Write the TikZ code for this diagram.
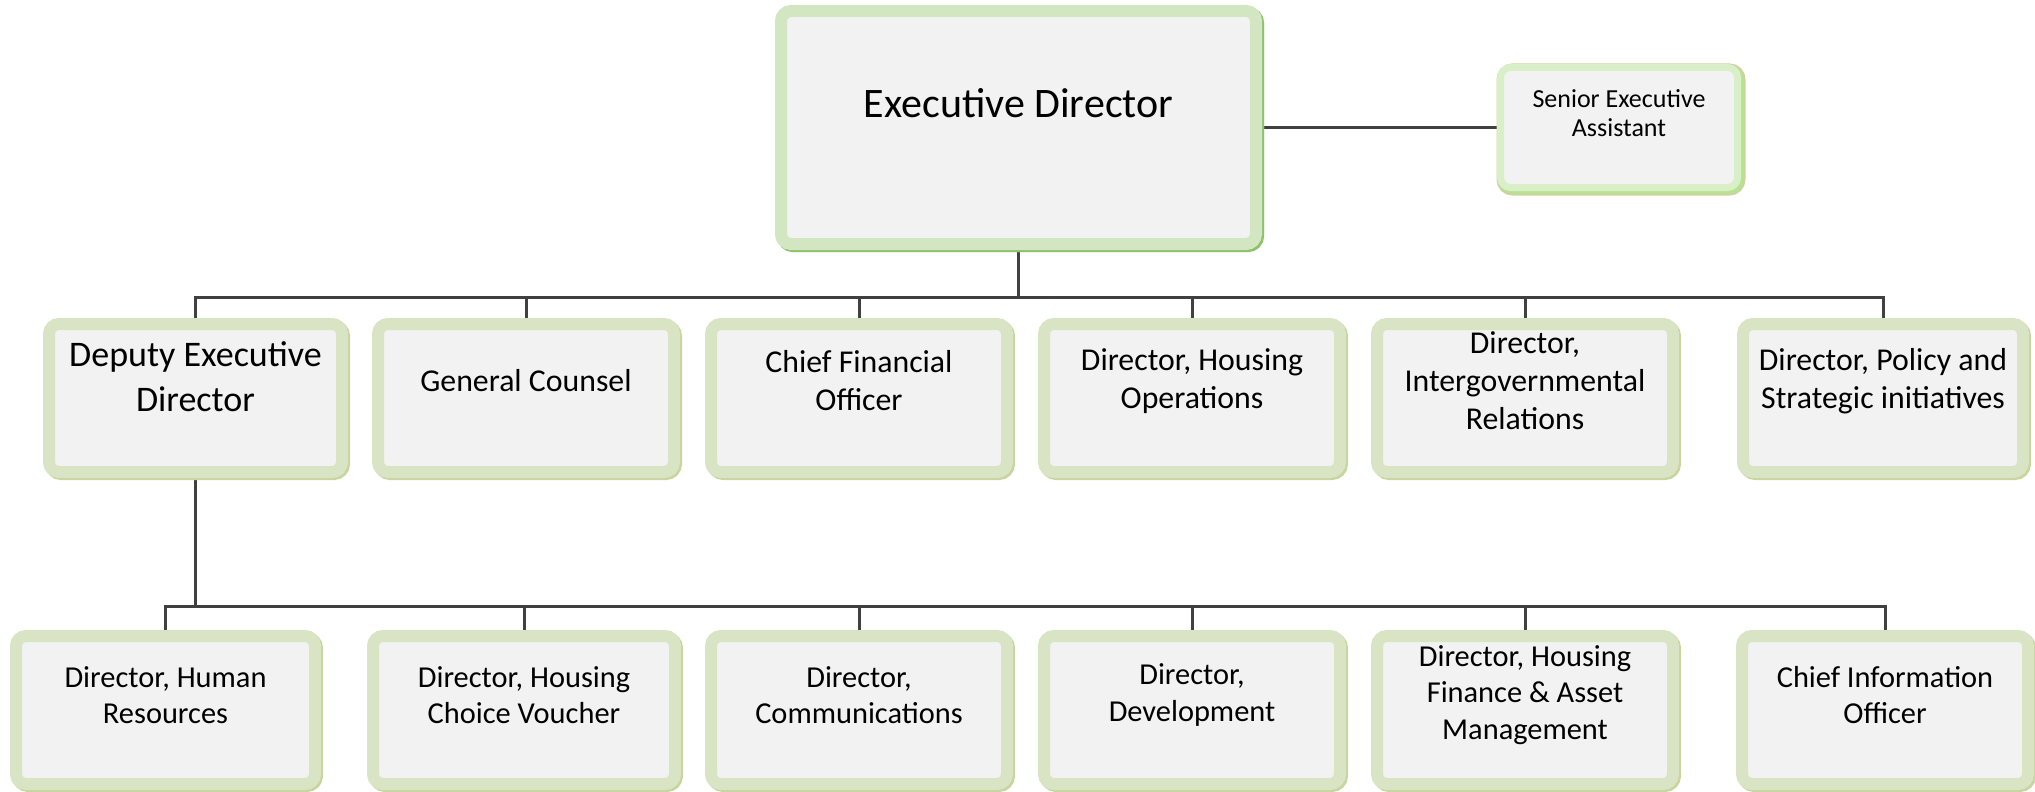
\documentclass[tikz,border=0pt]{standalone}
\usepackage{fontspec}
\setmainfont{Carlito}
\usetikzlibrary{positioning, backgrounds}
\definecolor{innerfill}{HTML}{F2F2F2}
\definecolor{bandtop}{HTML}{D3E6C2}
\definecolor{edgetop}{HTML}{8DC26A}
\definecolor{bandside}{HTML}{D9EFC8}
\definecolor{edgeside}{HTML}{B3E58E}
\definecolor{bandunit}{HTML}{D8E4C4}
\definecolor{edgeunit}{HTML}{C9D59E}
\definecolor{linkgray}{HTML}{404040}
\tikzset{
  box1/.style = {
    shape = rectangle,
    rounded corners = 5pt,
    inner sep = 0pt,
    outer sep = 0pt,
    fill = innerfill,
    draw = bandunit,
    line width = 6pt,
    preaction = {draw = edgeunit, line width = 6pt, transform canvas = {xshift = 1pt, yshift = -1pt}},
    minimum width = 148pt,
    minimum height = 74pt,
  }
}
\tikzset{
  box0/.style = {
    box1, draw = bandtop,
    preaction = {draw = edgetop, line width = 6pt, transform canvas = {xshift = 1pt, yshift = -1pt}},
  },
  box2/.style = {
    box1, draw = bandside, line width = 3.5pt,
    preaction = {draw = edgeside, line width = 3.5pt, transform canvas = {xshift = 1pt, yshift = -1pt}},
  }
}
\tikzset{
  txt0/.style = {font = \fontsize{21}{25}\selectfont, yshift = 12.25pt},
  txt2/.style = {font = \fontsize{13}{14.5}\selectfont, align = center, yshift = 7.25pt},
  txt3/.style = {font = \fontsize{18}{22.5}\selectfont, align = center, yshift = 10.5pt},
  txt1/.style = {font = \fontsize{15.9}{19}\selectfont, align = center, yshift = 8.5pt},
  txt4/.style = {font = \fontsize{15.2}{18.3}\selectfont, align = center, yshift = 7.5pt},
}
\tikzset{
  link1/.style = {
    draw = linkgray, line width = 1.5pt,
  }
}

\begin{document}
\begin{tikzpicture}
        \useasboundingbox (0,0) rectangle (1017.5pt,-396pt);
        \node[box0, minimum width = 237.5pt, minimum height = 116.5pt, label={[txt0]center:Executive Director}] (1) at (509.25pt,-63.75pt) {};
        \node[box2, minimum width = 118.5pt, minimum height = 60pt, label={[txt2]center:{Senior Executive\\Assistant}}, right=122.25pt of 1] (2) {};
        \node[box1, minimum width = 146.5pt, label={[txt3]center:{Deputy Executive\\Director}}] (3) at (97.75pt,-199pt) {};
        \node[box1, label={[txt1]center:General Counsel}, right=18pt of 3] (4) {};
        \node[box1, label={[txt1]center:{Chief Financial\\Officer}}, right=18.5pt of 4] (5) {};
        \node[box1, label={[txt1]center:{Director, Housing\\Operations}}, right=18.5pt of 5] (6) {};
        \node[box1, label={[txt1]center:{Director,\\Intergovernmental\\Relations}}, right=18.5pt of 6] (7) {};
        \node[box1, minimum width = 140pt, label={[txt1]center:{Director, Policy and\\Strategic initiatives}}, right=35pt of 7] (8) {};
        \node[box1, minimum width = 149.5pt, label={[txt4]center:{Director, Human\\Resources}}] (9) at (82.75pt,-355pt) {};
        \node[box1, minimum width = 151pt, label={[txt4]center:{Director, Housing\\Choice Voucher}}, right=29pt of 9] (10) {};
        \node[box1, label={[txt4]center:{Director,\\Communications}}, right=18pt of 10] (11) {};
        \node[box1, label={[txt4]center:{Director,\\Development}}, right=18.5pt of 11] (12) {};
        \node[box1, label={[txt4]center:{Director, Housing\\Finance \& Asset\\Management}}, right=18.5pt of 12] (13) {};
        \node[box1, minimum width = 143pt, label={[txt4]center:{Chief Information\\Officer}}, right=34.5pt of 13] (14) {};
        \begin{pgfonlayer}{background}
            \draw[link1](1) -- (2);
            \foreach \i in {3,...,8}
                \draw[link1](1.south) -- ++(0,-26.5pt) -| (\i.north);
            \foreach \i in {9,...,14}
                \draw[link1](3.south) -- ++(0,-67pt) -| (\i.north);
        \end{pgfonlayer}
    \end{tikzpicture}
\end{document}
